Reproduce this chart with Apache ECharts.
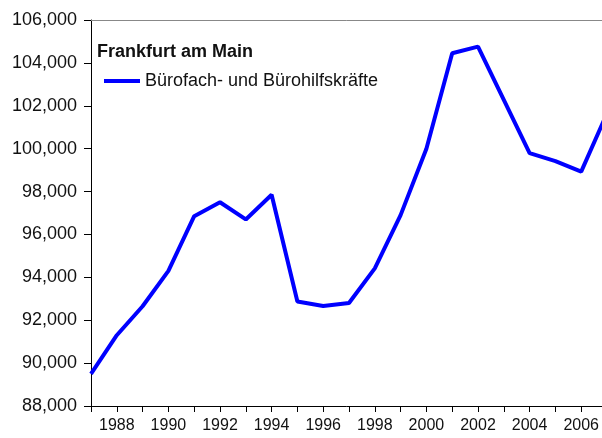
<!DOCTYPE html>
<html>
<head>
    <meta charset="utf-8">
    <title>Frankfurt am Main</title>
    <script src="https://cdn.jsdelivr.net/npm/echarts@6.0.0/dist/echarts.min.js"></script>
    <style>
        html, body { margin: 0; padding: 0; background: #fff; overflow: hidden; }
        #main { width: 602px; height: 438px; }
    </style>
</head>
<body>
    <div id="main"></div>
    <script type="text/javascript">
        // Jahre und Werte
        var years = [1987, 1988, 1989, 1990, 1991, 1992, 1993, 1994, 1995, 1996, 1997,
                     1998, 1999, 2000, 2001, 2002, 2003, 2004, 2005, 2006, 2007];
        var values = [89500, 91300, 92650, 94300, 96850, 97500, 96700, 97850, 92870, 92660, 92800,
                      94420, 96900, 100000, 104450, 104760, 102270, 99790, 99420, 98930, 101650];
        var seriesName = 'Bürofach- und Bürohilfskräfte';
        var chartTitle = 'Frankfurt am Main';

        var chart = echarts.init(document.getElementById('main'));
        var font = 'Liberation Sans, Arial, sans-serif';

        var option = {
            animation: false,
            backgroundColor: '#fff',
            title: {
                text: chartTitle,
                left: 97,
                top: 43,
                padding: 0,
                textStyle: { fontFamily: font, fontSize: 18, fontWeight: 'bold', color: '#111' }
            },
            legend: {
                data: [seriesName],
                left: 104,
                top: 72,
                padding: 0,
                icon: 'rect',
                itemWidth: 36,
                itemHeight: 4,
                textStyle: { fontFamily: font, fontSize: 18, color: '#111' }
            },
            // Zeichenfläche läuft rechts über den Bildrand hinaus (2007 abgeschnitten)
            grid: { left: 91, width: 516, top: 20, bottom: 32, outerBoundsMode: 'none', containLabel: false },
            xAxis: [
                {
                    type: 'value',
                    min: 1987,
                    max: 2007,
                    interval: 1,
                    axisLine: { lineStyle: { color: '#000', width: 1 } },
                    axisTick: { length: 6, lineStyle: { color: '#000' } },
                    axisLabel: {
                        margin: 12,
                        fontFamily: font,
                        fontSize: 16,
                        color: '#111',
                        formatter: function (v) { return v % 2 === 0 && v < 2007 ? String(v) : ''; }
                    },
                    splitLine: { show: false }
                },
                {
                    type: 'value',
                    position: 'top',
                    min: 1987,
                    max: 2007,
                    axisLine: { show: true, onZero: false, lineStyle: { color: '#888', width: 1 } },
                    axisTick: { show: false },
                    axisLabel: { show: false },
                    splitLine: { show: false }
                }
            ],
            yAxis: {
                type: 'value',
                min: 88000,
                max: 106000,
                interval: 2000,
                axisLine: { show: true, lineStyle: { color: '#000', width: 1 } },
                axisTick: { show: true, length: 7, lineStyle: { color: '#000' } },
                axisLabel: {
                    margin: 14,
                    fontFamily: font,
                    fontSize: 18,
                    color: '#111',
                    formatter: function (v) { return v.toLocaleString('en-US'); }
                },
                splitLine: { show: false }
            },
            series: [
                {
                    name: seriesName,
                    type: 'line',
                    symbol: 'none',
                    data: years.map(function (y, i) { return [y, values[i]]; }),
                    lineStyle: { color: '#0000ff', width: 4 },
                    itemStyle: { color: '#0000ff' }
                }
            ]
        };
        chart.setOption(option);
    </script>
</body>
</html>
